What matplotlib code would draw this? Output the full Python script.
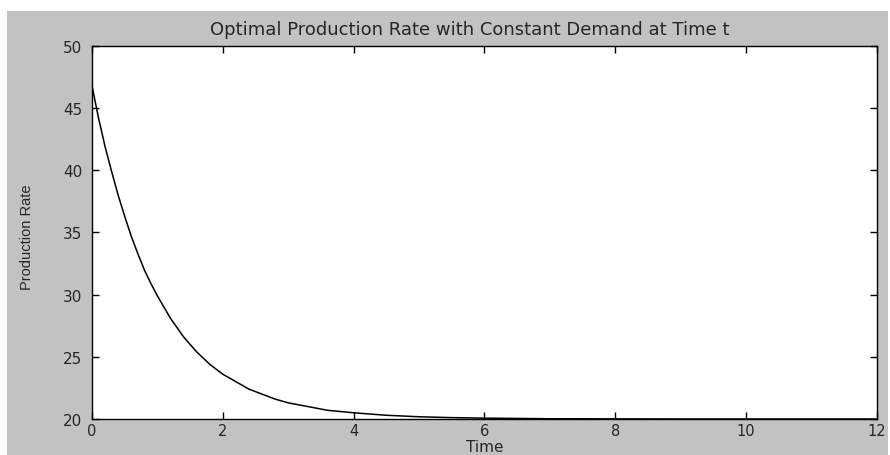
import matplotlib
matplotlib.use("Agg")
import matplotlib.pyplot as plt
from matplotlib.patches import Rectangle

# Data
time = [0.0, 0.1, 0.2, 0.3, 0.4, 0.5, 0.6, 0.7, 0.8, 0.9, 1.0, 1.2, 1.4, 1.6, 1.8, 2.0,
        2.2, 2.4, 2.6, 2.8, 3.0, 3.2, 3.6, 4.0, 4.5, 5.0, 5.5, 6.0, 7.0, 8.0, 9.0, 10.0, 11.0, 12.0]
production_rate = [46.8, 44.2, 41.9, 39.9, 38.0, 36.3, 34.7, 33.3, 32.0, 30.9, 29.9, 28.1, 26.6,
                   25.4, 24.4, 23.6, 23.0, 22.4, 22.0, 21.6, 21.3, 21.1, 20.7, 20.5, 20.3, 20.18,
                   20.11, 20.07, 20.02, 20.01, 20.0, 20.0, 20.0, 20.0]
x_ticks = [0, 2, 4, 6, 8, 10, 12]
y_ticks = [20, 25, 30, 35, 40, 45, 50]

W, H = 890, 456
fig = plt.figure(figsize=(W / 100, H / 100), dpi=100, facecolor="white")
fig.patches.append(Rectangle((7 / W, 0), (888 - 7) / W, 1 - 12 / H,
                             transform=fig.transFigure, facecolor="#c2c2c2",
                             edgecolor="none", zorder=-10))

ax = fig.add_axes([92 / W, 1 - 420 / H, (877 - 92) / W, (420 - 47) / H])
ax.set_facecolor("white")
ax.plot(time, production_rate, color="black", linewidth=1.1)
ax.set_xlim(0, 12)
ax.set_ylim(20, 50)
ax.set_xticks(x_ticks)
ax.set_yticks(y_ticks)

txt = "#262626"
font = ["DejaVu Sans"]
ax.tick_params(direction="in", length=5, width=1, top=True, right=True,
               labelsize=11, colors="black", labelcolor=txt)
ax.tick_params(axis="x", pad=3, labelsize=10.5)
ax.tick_params(axis="y", pad=7)
for lab in ax.get_xticklabels() + ax.get_yticklabels():
    lab.set_family(font)
for s in ax.spines.values():
    s.set_linewidth(1.0)
    s.set_color("black")

ax.set_title("Optimal Production Rate with Constant Demand at Time t",
             family=font, fontsize=13, color=txt, pad=8.5, x=(470 - 92) / 785)
ax.set_xlabel("Time", family=font, fontsize=11, color=txt, va="top")
ax.xaxis.set_label_coords(0.5, -(440 - 420) / 373)
ax.set_ylabel("Production Rate", family=["Liberation Sans Narrow", "Liberation Sans", "DejaVu Sans"],
              fontsize=10.5, color=txt)
ax.yaxis.set_label_coords((34 - 92) / 785, 0.49)

fig.savefig("out.png", dpi=100, facecolor=fig.get_facecolor())
